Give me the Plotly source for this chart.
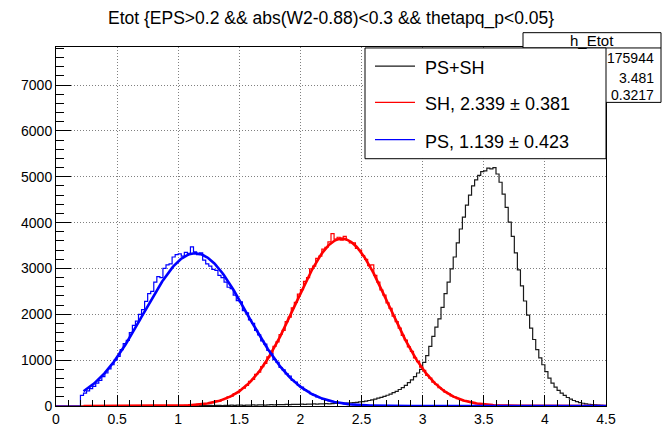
import numpy as np
import plotly.graph_objects as go

# ---------------- data ----------------
n_bins = 180
x_low, x_high = 0.0, 4.5

# PS+SH (h_Etot) bin contents, first listed bin starts at 1.0
black_start = 1.0
black_vals = [
    5, 5, 10, 5, 10, 10, 5, 10, 10, 10, 15, 10, 15, 15, 10, 15, 15, 20, 15, 20,
    20, 15, 20, 20, 25, 20, 25, 25, 20, 25, 30, 25, 30, 30, 30, 35, 30, 35, 35, 35,
    40, 35, 40, 40, 45, 40, 45, 45, 50, 45, 50, 55, 55, 60, 60, 65, 70, 75, 80, 90,
    95, 105, 120, 135, 150, 170, 190, 210, 235, 260, 290, 320, 360, 400, 450, 510, 570, 640, 720, 800,
    950, 1100, 1300, 1520, 1720, 1900, 2150, 2450, 2700, 2990, 3250, 3560, 3860, 4120, 4380, 4600, 4800, 4930, 5030, 5110,
    5130, 5190, 5170, 5200, 5060, 4880, 4620, 4330, 4010, 3700, 3340, 2970, 2620, 2290, 1980, 1700, 1450, 1230, 1050, 900,
    750, 610, 500, 410, 340, 280, 230, 185, 150, 120, 95, 75, 60, 48, 38, 30, 24, 18, 14, 10,
]

# SH bin contents, first listed bin starts at 0.5
red_start = 0.5
red_vals = [
    0, 0, 0, 0, 5, 0, 0, 0, 5, 0, 5, 0, 0, 5, 5, 0, 5, 5, 10, 5,
    10, 10, 15, 15, 25, 20, 35, 35, 50, 55, 70, 75, 110, 105, 140, 160, 200, 215, 270, 290,
    360, 390, 450, 540, 580, 690, 740, 860, 930, 1070, 1150, 1300, 1400, 1560, 1650, 1840, 1940, 2140, 2260, 2440,
    2540, 2720, 2800, 2990, 3050, 3220, 3270, 3420, 3460, 3580, 3760, 3640, 3680, 3620, 3700, 3610, 3560, 3560, 3440, 3400,
    3280, 3200, 3060, 3080, 2850, 2700, 2530, 2420, 2250, 2130, 1960, 1840, 1700, 1540, 1440, 1290, 1190, 1050, 970, 850,
    780, 670, 610, 520, 470, 400, 360, 300, 270, 220, 195, 160, 140, 115, 100, 80, 70, 55, 45, 40,
    30, 25, 20, 15, 15, 10, 10, 5, 5, 5,
]

# PS bin contents, first listed bin starts at 0.2
blue_start = 0.2
blue_vals = [
    230, 280, 330, 380, 430, 500, 560, 640, 720, 810,
    900, 1000, 1080, 1230, 1360, 1430, 1600, 1760, 1850, 2000,
    2100, 2280, 2450, 2500, 2700, 2820, 2800, 3000, 3080, 3100,
    3250, 3300, 3320, 3270, 3350, 3330, 3470, 3360, 3300, 3340,
    3180, 3100, 3050, 2980, 2960, 2850, 2800, 2700, 2590, 2560,
    2420, 2300, 2270, 2080, 2030, 1880, 1800, 1650, 1550, 1420,
    1350, 1210, 1140, 1010, 950, 840, 790, 700, 650, 560,
    520, 450, 410, 350, 320, 270, 240, 200, 180, 150,
    130, 110, 95, 80, 70, 55, 45, 40, 30, 25,
    20, 15, 12, 10, 8, 5,
]

# Gaussian fit results (amplitude, mean, sigma) and fit range
sh_fit = (3650.0, 2.339, 0.381)
ps_fit = (3330.0, 1.139, 0.423)
fit_range = (0.225, 4.5)

title_text = "Etot {EPS>0.2 && abs(W2-0.88)<0.3 && thetapq_p<0.05}"
stats_name = "h_Etot"
stats_values = ["175944", "3.481", "0.3217"]
legend_labels = ["PS+SH", "SH, 2.339 \u00b1 0.381", "PS, 1.139 \u00b1 0.423"]

# ---------------- helpers ----------------
edges = np.linspace(x_low, x_high, n_bins + 1)
bw = (x_high - x_low) / n_bins


def fill(start, vals):
    arr = np.zeros(n_bins)
    i0 = int(round((start - x_low) / bw))
    arr[i0:i0 + len(vals)] = vals
    return arr


def step_y(counts):
    return np.append(counts, counts[-1])


def gauss(p, x):
    a, m, s = p
    return a * np.exp(-0.5 * ((x - m) / s) ** 2)


black = fill(black_start, black_vals)
red = fill(red_start, red_vals)
blue = fill(blue_start, blue_vals)
xf = np.linspace(fit_range[0], fit_range[1], 500)

W, H = 669, 439
L, R, T, B = 56, 606, 47, 423
FONT = "Liberation Sans, Arial, Helvetica, sans-serif"


def px(x):
    return (x - L) / (R - L)


def py(y):
    return (B - y) / (B - T)


fig = go.Figure()
fig.add_trace(go.Scatter(x=edges, y=step_y(black), mode="lines",
                         line=dict(color="#1a1a1a", width=1.2, shape="hv"),
                         hoverinfo="skip", showlegend=False))
fig.add_trace(go.Scatter(x=edges, y=step_y(red), mode="lines",
                         line=dict(color="#ff0000", width=1.2, shape="hv"),
                         hoverinfo="skip", showlegend=False))
fig.add_trace(go.Scatter(x=edges, y=step_y(blue), mode="lines",
                         line=dict(color="#0000ff", width=1.2, shape="hv"),
                         hoverinfo="skip", showlegend=False))
fig.add_trace(go.Scatter(x=xf, y=gauss(sh_fit, xf), mode="lines",
                         line=dict(color="#ff0000", width=2.6),
                         hoverinfo="skip", showlegend=False))
fig.add_trace(go.Scatter(x=xf, y=gauss(ps_fit, xf), mode="lines",
                         line=dict(color="#0000ff", width=2.6),
                         hoverinfo="skip", showlegend=False))

shapes = []
annotations = []

# title
annotations.append(dict(x=px(331), y=py(17), xref="paper", yref="paper",
                        text=title_text, showarrow=False, xanchor="center",
                        yanchor="middle", font=dict(family=FONT, size=17.5, color="black")))

# stats box
shapes.append(dict(type="rect", xref="paper", yref="paper", x0=px(523), x1=px(661),
                   y0=py(105), y1=py(32), line=dict(color="black", width=1),
                   fillcolor="white", layer="above"))
shapes.append(dict(type="line", xref="paper", yref="paper", x0=px(523), x1=px(661),
                   y0=py(48), y1=py(48), line=dict(color="black", width=1), layer="above"))
annotations.append(dict(x=px(592), y=py(40), xref="paper", yref="paper", text=stats_name,
                        showarrow=False, xanchor="center", yanchor="middle",
                        font=dict(family=FONT, size=15, color="black")))
for v, yy in zip(stats_values, [59, 79, 97]):
    annotations.append(dict(x=px(656), y=py(yy), xref="paper", yref="paper", text=v,
                            showarrow=False, xanchor="right", yanchor="middle",
                            font=dict(family=FONT, size=14, color="black")))

# legend box
shapes.append(dict(type="rect", xref="paper", yref="paper", x0=px(365), x1=px(606),
                   y0=py(164), y1=py(48), line=dict(color="black", width=1),
                   fillcolor="white", layer="above"))
for lab, col, yy in zip(legend_labels, ["#1a1a1a", "#ff0000", "#0000ff"], [67, 105, 144]):
    shapes.append(dict(type="line", xref="paper", yref="paper", x0=px(375), x1=px(415),
                       y0=py(yy), y1=py(yy), line=dict(color=col, width=1.2), layer="above"))
    annotations.append(dict(x=px(423), y=py(yy + 2), xref="paper", yref="paper", text=lab,
                            showarrow=False, xanchor="left", yanchor="middle",
                            font=dict(family=FONT, size=18, color="black")))

axis_common = dict(showline=True, mirror=True, linecolor="black", linewidth=1,
                   ticks="inside", tickcolor="black", zeroline=False,
                   showgrid=True, gridcolor="#808080", griddash="1px,2px", gridwidth=1,
                   tickfont=dict(family=FONT, size=14, color="black"))

fig.update_layout(
    width=W, height=H,
    margin=dict(l=L, r=W - R, t=T, b=H - B, pad=0),
    paper_bgcolor="white", plot_bgcolor="white",
    xaxis=dict(range=[x_low, x_high], tick0=0, dtick=0.5, ticklen=11,
               minor=dict(dtick=0.1, ticklen=6, ticks="inside", tickcolor="black", showgrid=False),
               **axis_common),
    yaxis=dict(range=[0, 7830], tick0=0, dtick=1000, ticklen=15, tickformat="d",
               minor=dict(dtick=200, ticklen=8, ticks="inside", tickcolor="black", showgrid=False),
               **axis_common),
    shapes=shapes, annotations=annotations, showlegend=False,
)

fig.write_html("out.html")
